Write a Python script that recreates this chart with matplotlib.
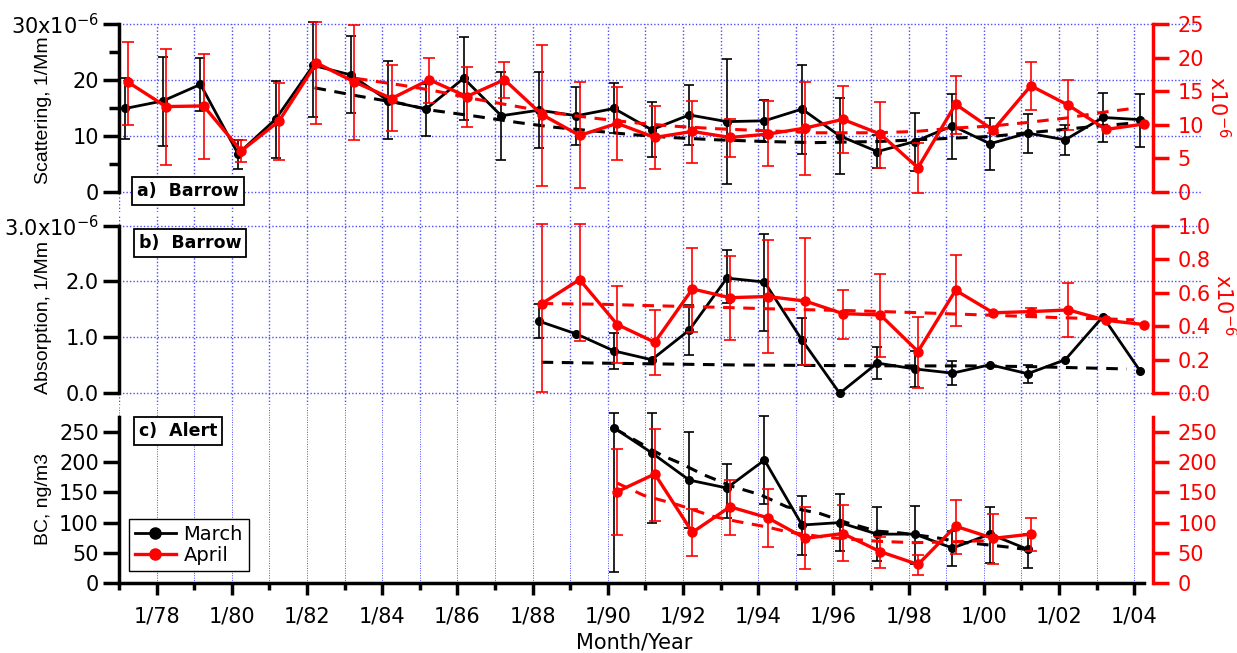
import numpy as np
import matplotlib
matplotlib.use("Agg")
import matplotlib.pyplot as plt
from matplotlib.lines import Line2D
from matplotlib.ticker import MultipleLocator, FuncFormatter

plt.rcParams['font.family'] = ['DejaVu Sans']
plt.rcParams['mathtext.fontset'] = 'dejavusans'

RED = '#ff0000'
GRID = '#4d4dff'

# a) Barrow scattering, units of 1e-6 1/Mm (March on left axis, April on right axis)
sc_years = np.arange(1977, 2005)
sc_mar = [14.9, 16.25, 19.2, 6.8, 13.0, 22.6, 20.9, 16.25, 14.8, 20.3, 13.6, 14.6, 13.6, 14.9,
          11.1, 13.75, 12.55, 12.7, 14.8, 10.0, 7.2, 9.0, 11.8, 8.6, 10.5, 9.3, 13.3, 12.9]
sc_mar_hi = [20.4, 24.1, 23.9, 9.3, 19.9, 30.4, 27.9, 23.3, 19.2, 27.6, 21.4, 21.4, 18.7, 19.4,
             16.0, 19.05, 23.7, 16.4, 22.7, 16.7, 10.2, 14.05, 17.5, 13.2, 13.9, 12.0, 17.7, 17.5]
sc_mar_lo = [9.4, 8.2, 14.5, 4.1, 6.0, 13.3, 14.05, 9.4, 10.0, 12.9, 5.7, 7.8, 8.4, 10.5,
             6.2, 8.4, 1.4, 9.0, 6.8, 3.2, 4.3, 3.75, 5.9, 3.9, 7.0, 6.5, 8.9, 8.1]
sc_apr = [16.3, 12.7, 12.8, 6.1, 10.5, 19.2, 16.4, 13.9, 16.7, 14.2, 16.7, 11.5, 8.4, 10.2,
          8.1, 9.0, 8.1, 8.6, 9.5, 10.8, 8.6, 3.6, 13.05, 9.2, 15.8, 12.9, 9.3, 10.1]
sc_apr_hi = [22.3, 21.3, 20.6, 7.7, 16.2, 25.3, 24.85, 18.85, 20.0, 18.65, 19.3, 21.9, 16.3, 15.6,
             12.8, 13.5, 10.9, 13.6, 16.4, 15.8, 13.4, 7.3, 17.3, 9.7, 19.3, 16.7, 9.3, 10.1]
sc_apr_lo = [10.0, 4.0, 4.9, 4.5, 4.8, 10.1, 7.7, 9.1, 13.3, 9.7, 14.0, 0.8, 0.55, 4.8,
             3.4, 4.3, 5.25, 3.8, 2.5, 5.75, 3.6, -0.2, 8.6, 8.7, 12.2, 9.2, 9.3, 10.1]
sc_mar_fit_x = [1982.2, 1983.3, 1984.5, 1985.3, 1986.5, 1987.6, 1988.5, 1989.6, 1990.7, 1991.7, 1992.9,
                1994.2, 1995.5, 1997.2, 1998.2, 1999.2, 2000.2, 2001.1, 2002.2, 2003.1, 2004.0]
sc_mar_fit = [18.6, 17.2, 15.8, 14.6, 13.5, 12.4, 11.6, 10.9, 10.2, 9.7, 9.3,
              9.0, 8.8, 9.0, 9.3, 9.6, 9.9, 10.5, 11.2, 11.8, 12.3]
sc_apr_fit_x = [1983.3, 1984.5, 1985.35, 1986.4, 1987.5, 1988.5, 1989.6, 1990.7, 1991.7, 1992.9,
                1994.2, 1995.55, 1997.15, 1998.2, 1999.2, 2000.2, 2001.1, 2002.2, 2003.1, 2004.0]
sc_apr_fit = [16.9, 15.9, 15.1, 13.9, 12.8, 11.8, 11.0, 10.3, 9.8, 9.4,
              9.1, 8.8, 8.8, 9.0, 9.5, 9.8, 10.3, 11.0, 11.8, 12.45]

# b) Barrow absorption, units of 1e-6 1/Mm
ab_years = np.arange(1988, 2005)
ab_mar = [1.29, 1.06, 0.757, 0.60, 1.13, 2.06, 1.99, 0.95, 0.0, 0.54, 0.435, 0.36, 0.51, 0.35, 0.60, 1.37, 0.39]
ab_mar_hi = [1.59, 1.06, 1.07, 0.60, 1.58, 2.57, 2.85, 1.35, 0.0, 0.83, 0.75, 0.57, 0.51, 0.51, 0.60, 1.37, 0.39]
ab_mar_lo = [0.98, 1.06, 0.43, 0.60, 0.69, 1.61, 1.12, 0.51, 0.0, 0.26, 0.12, 0.15, 0.51, 0.18, 0.60, 1.37, 0.39]
ab_apr = [0.535, 0.678, 0.41, 0.304, 0.622, 0.57, 0.577, 0.55, 0.475, 0.467, 0.249, 0.614, 0.48, 0.487, 0.497, 0.435, 0.41]
ab_apr_hi = [1.01, 1.01, 0.64, 0.497, 0.869, 0.817, 0.915, 0.928, 0.614, 0.714, 0.457, 0.825, 0.48, 0.51, 0.656, 0.435, 0.41]
ab_apr_lo = [0.01, 0.31, 0.18, 0.11, 0.368, 0.318, 0.24, 0.17, 0.324, 0.215, 0.034, 0.40, 0.48, 0.467, 0.336, 0.435, 0.41]
ab_mar_fit_x = [1988.24, 1990.68, 1993.34, 1996.0, 1998.2, 1999.54, 2001.23, 2002.56, 2003.8]
ab_mar_fit = [0.555, 0.531, 0.507, 0.495, 0.489, 0.49, 0.477, 0.455, 0.435]
ab_apr_fit_x = [1988.24, 1989.8, 1991.05, 1992.9, 1994.7, 1996.4, 1998.2, 1999.2, 2000.5, 2002.0, 2003.6, 2004.0]
ab_apr_fit = [0.535, 0.531, 0.523, 0.513, 0.501, 0.493, 0.481, 0.473, 0.463, 0.451, 0.441, 0.438]

# c) Alert black carbon, ng/m3
bc_years = np.arange(1990, 2002)
bc_mar = [256, 215, 170, 157, 203, 96, 100, 81, 81, 58, 81, 56]
bc_mar_hi = [280, 280, 250, 196, 276, 144, 147, 125, 128, 86, 125, 82]
bc_mar_lo = [18, 100, 91, 107, 131, 47, 53, 37, 32, 28, 33, 26]
bc_apr = [151, 180, 84, 126, 108, 74, 82, 52, 31, 94, 74, 81]
bc_apr_hi = [222, 254, 122, 170, 155, 125, 129, 76, 47, 137, 114, 108]
bc_apr_lo = [80, 103, 45, 79, 59, 23, 37, 26, 14, 49, 31, 54]
bc_mar_fit_x = [1990.2, 1990.32, 1991.43, 1991.92, 1992.54, 1993.34, 1994.05, 1994.76, 1995.64,
                1996.35, 1997.15, 1997.77, 1998.66, 1999.37, 1999.86, 2000.74, 2001.2]
bc_mar_fit = [254, 250, 211, 198, 179, 159, 146, 126, 115, 100, 86, 83, 76, 68, 65, 59, 55]
bc_apr_fit_x = [1990.25, 1990.95, 1991.88, 1992.81, 1993.43, 1994.22, 1994.76, 1995.64, 1996.35,
                1997.24, 1998.13, 1999.01, 1999.9, 2000.3]
bc_apr_fit = [165, 145, 129, 110, 102, 93, 85, 77, 73, 69, 67, 68, 70, 68]

MAR_OFF, APR_OFF = 2 / 12, 3 / 12
X0, X1 = 1977.0, 2004.5
TICK_FS = 15


def draw(ax, years, v, lo, hi, color, lw, ms, cap, fit_x, fit, offset):
    x = np.asarray(years) + offset
    v, lo, hi = np.asarray(v, float), np.asarray(lo, float), np.asarray(hi, float)
    m = hi > lo
    ax.errorbar(x[m], v[m], yerr=[v[m] - lo[m], hi[m] - v[m]], fmt='none', ecolor=color,
                elinewidth=1.2, capsize=cap, capthick=1.2, clip_on=False, zorder=2)
    ax.plot(fit_x, fit, color=color, lw=2.2, ls=(0, (3.8, 2.8)), zorder=3)
    ax.plot(x, v, '-o', color=color, lw=lw, ms=ms, zorder=4, clip_on=False)


fig = plt.figure(figsize=(12.37, 6.53), dpi=100)
left_px, right_px = 119, 1153
panels_px = [(24, 212), (214, 405), (407, 583.3)]
axs = []
for top, bot in panels_px:
    axs.append(fig.add_axes([left_px / 1237, 1 - bot / 653, (right_px - left_px) / 1237, (bot - top) / 653]))
ax1, ax2, ax3 = axs
rs = [a.twinx() for a in axs]
r1, r2, r3 = rs

for ax, axr in zip(axs, rs):
    ax.set_xlim(X0, X1)
    ax.xaxis.set_major_locator(MultipleLocator(2))
    ax.xaxis.set_minor_locator(MultipleLocator(1))
    ax.grid(True, axis='x', which='both', color=GRID, ls=(0, (1, 1.5)), lw=1.0)
    ax.set_axisbelow(True)
    for s in ['top', 'right']:
        ax.spines[s].set_visible(False)
    for s in ['top', 'left', 'bottom']:
        axr.spines[s].set_visible(False)
    ax.spines['left'].set_linewidth(2.5)
    axr.spines['right'].set_linewidth(2.5)
    axr.spines['right'].set_color(RED)
    ax.tick_params(axis='y', which='major', length=11.5, width=2.5, labelsize=TICK_FS, pad=3)
    ax.tick_params(axis='y', which='minor', length=7, width=2.5)
    axr.tick_params(axis='y', which='major', length=11.5, width=2.5, labelsize=TICK_FS, pad=6, colors=RED)

for ax in (ax1, ax2):
    ax.spines['bottom'].set_visible(False)
    ax.tick_params(axis='x', which='both', bottom=False, labelbottom=False)

# limits, spine extents, ticks
ax1.set_ylim(-3.6, 30)
r1.set_ylim(-3.0, 25)
ax1.spines['left'].set_bounds(0, 30)
r1.spines['right'].set_bounds(0, 25)
ax1.set_yticks([0, 10, 20, 30])
ax1.set_yticklabels(['0', '10', '20', '30x10$^{-6}$'])
ax1.set_yticks([5, 15, 25], minor=True)
r1.set_yticks([0, 5, 10, 15, 20, 25])

ax2.set_ylim(-0.21, 3.207)
r2.set_ylim(-0.07, 1.069)
ax2.spines['left'].set_bounds(0, 3)
r2.spines['right'].set_bounds(0, 1)
ax2.set_yticks([0, 1, 2, 3])
ax2.set_yticklabels(['0.0', '1.0', '2.0', '3.0x10$^{-6}$'])
r2.set_yticks([0, 0.2, 0.4, 0.6, 0.8, 1.0])
r2.set_yticklabels(['0.0', '0.2', '0.4', '0.6', '0.8', '1.0'])

ax3.set_ylim(0, 290.4)
r3.set_ylim(0, 290.4)
ax3.spines['left'].set_bounds(0, 274)
r3.spines['right'].set_bounds(0, 274)
ax3.set_yticks([0, 50, 100, 150, 200, 250])
r3.set_yticks([0, 50, 100, 150, 200, 250])
ax3.grid(True, axis='x', which='both', color=GRID, ls=(0, (1, 1.5)), lw=0.7)
ax3.spines['bottom'].set_linewidth(2.5)
ax3.spines['bottom'].set_bounds(X0, 2004.25)
ax3.tick_params(axis='x', which='major', length=8.5, width=2.5, labelsize=TICK_FS, pad=8)
ax3.tick_params(axis='x', which='minor', length=5, width=2.5)
ax3.xaxis.set_major_formatter(FuncFormatter(lambda v, p: '1/%02d' % (int(round(v)) % 100)))

# horizontal grid lines running a bit past the right axis
ext = (1202 - left_px) / (right_px - left_px)
for ax, ticks in ((ax1, [0, 10, 20, 30]), (ax2, [0, 1, 2, 3])):
    for t in ticks:
        ax.axhline(t, xmin=0, xmax=ext, color=GRID, ls=(0, (1, 1.5)), lw=1.0, clip_on=False, zorder=0.5)

draw(ax1, sc_years, sc_mar, sc_mar_lo, sc_mar_hi, 'black', 2.0, 5.5, 3.6, sc_mar_fit_x, sc_mar_fit, MAR_OFF)
draw(r1, sc_years, sc_apr, sc_apr_lo, sc_apr_hi, RED, 2.4, 6.5, 4.3, sc_apr_fit_x, sc_apr_fit, APR_OFF)
draw(ax2, ab_years, ab_mar, ab_mar_lo, ab_mar_hi, 'black', 2.0, 5.5, 3.6, ab_mar_fit_x, ab_mar_fit, MAR_OFF)
draw(r2, ab_years, ab_apr, ab_apr_lo, ab_apr_hi, RED, 2.4, 6.5, 4.3, ab_apr_fit_x, ab_apr_fit, APR_OFF)
draw(ax3, bc_years, bc_mar, bc_mar_lo, bc_mar_hi, 'black', 2.0, 5.5, 3.6, bc_mar_fit_x, bc_mar_fit, MAR_OFF)
draw(r3, bc_years, bc_apr, bc_apr_lo, bc_apr_hi, RED, 2.4, 6.5, 4.3, bc_apr_fit_x, bc_apr_fit, APR_OFF)

# axis titles
lab = dict(rotation=90, ha='center', va='center', fontsize=14, family='Liberation Sans')
fig.text(44 / 1237, 1 - 110 / 653, 'Scattering, 1/Mm', **lab)
fig.text(44 / 1237, 1 - 318 / 653, 'Absorption, 1/Mm', **lab)
fig.text(44 / 1237, 1 - 499 / 653, 'BC, ng/m3', **lab)
fig.text(1218 / 1237, 1 - 107 / 653, 'x10$^{-6}$', rotation=-90, ha='center', va='center', fontsize=15, color=RED)
fig.text(1224 / 1237, 1 - 305 / 653, 'x10$^{-6}$', rotation=-90, ha='center', va='center', fontsize=15, color=RED)
fig.text(634 / 1237, 1 - 643 / 653, 'Month/Year', ha='center', va='center', fontsize=15)

box = dict(boxstyle='square,pad=0.3', facecolor='white', edgecolor='black', lw=1.3)
fig.text(188 / 1237, 1 - 191 / 653, 'a)  Barrow', ha='center', va='center', fontsize=12.5, weight='bold', bbox=box)
fig.text(190 / 1237, 1 - 243 / 653, 'b)  Barrow', ha='center', va='center', fontsize=12.5, weight='bold', bbox=box)
fig.text(178 / 1237, 1 - 431 / 653, 'c)  Alert', ha='center', va='center', fontsize=12.5, weight='bold', bbox=box)

handles = [Line2D([], [], color='black', lw=2.0, marker='o', ms=8),
           Line2D([], [], color=RED, lw=2.4, marker='o', ms=8)]
leg = fig.legend(handles, ['March', 'April'], loc='upper left', bbox_to_anchor=(129 / 1237, 1 - 519 / 653),
                 frameon=True, fancybox=False, edgecolor='black', framealpha=1, borderaxespad=0,
                 handlelength=2.1, handletextpad=0.4, borderpad=0.3, labelspacing=0.1, fontsize=14)
leg.get_frame().set_linewidth(1.0)

fig.savefig('out.png', dpi=100)
